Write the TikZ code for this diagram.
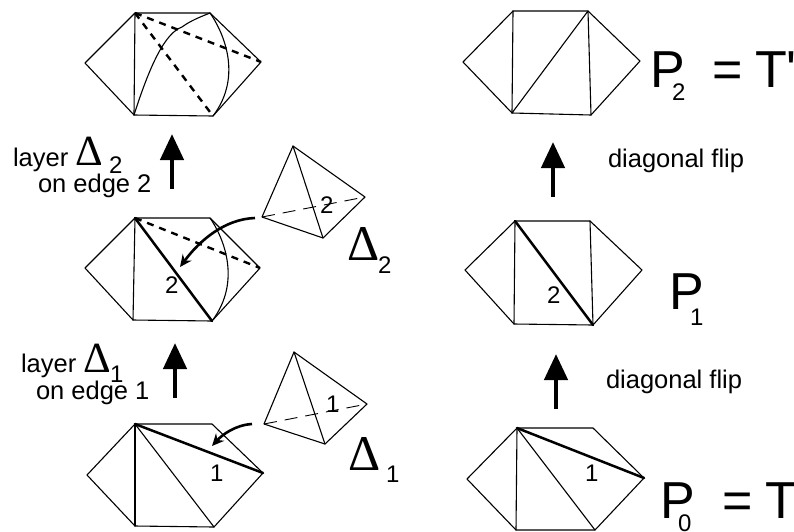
\documentclass[tikz,border=0pt]{standalone}
\usepackage{fontspec}
\setmainfont{Liberation Sans}
\newfontfamily\deltafont{Liberation Serif}
\newfontfamily\plainsans{Liberation Sans}
\usetikzlibrary{arrows.meta}
\tikzset{
  edgeline/.style={line width=1.1pt,line join=round,line cap=round},
  heavy/.style={line width=2.5pt,line cap=round},
  dashheavy/.style={line width=2.4pt,dash pattern=on 7pt off 6pt},
  dashthin/.style={line width=0.9pt,dash pattern=on 13pt off 8pt},
  uparrow/.style={line width=4.5pt,-{Triangle[length=26pt,width=23pt]}},
  curvearrow/.style={line width=2.6pt,-{Stealth[length=12pt,width=11pt]}},
  txt/.style={anchor=base west,inner sep=0pt,outer sep=0pt,font=\fontsize{25.5}{25.5}\selectfont},
  num/.style={txt,font=\fontsize{24}{24}\selectfont},
  sub/.style={txt,font=\fontsize{24}{24}\selectfont},
  smalldelta/.style={txt,font=\deltafont\fontsize{43}{43}\selectfont},
  bigtxt/.style={txt,font=\plainsans\fontsize{52}{52}\selectfont},
  bigdelta/.style={txt,font=\deltafont\fontsize{50}{50}\selectfont}
}
\newcommand{\hexcoords}[7]{%
  \coordinate (#1l) at #2; \coordinate (#1tl) at #3; \coordinate (#1tr) at #4;
  \coordinate (#1r) at #5; \coordinate (#1br) at #6; \coordinate (#1bl) at #7;
  \draw[edgeline] (#1l) -- (#1tl) -- (#1tr) -- (#1r) -- (#1br) -- (#1bl) -- cycle;
  \draw[edgeline] (#1tl) -- (#1bl);
}
\begin{document}
\begin{tikzpicture}[x=1pt,y=-1pt]
\useasboundingbox (0,0) rectangle (794,531);
% left column
\hexcoords{a}{(85,63)}{(135,13)}{(210,13)}{(261,62)}{(213,116)}{(134,115)}
\draw[dashheavy] (atl) -- (ar);
\draw[dashheavy] (atl) -- (abr);
\draw[edgeline] (abl) .. controls (150,65) and (165,33) .. (182,27) .. controls (190,21) and (200,17) .. (atr);
\draw[edgeline] (atr) .. controls (222,30) and (244,75) .. (abr);
\hexcoords{b}{(85,268)}{(135,218)}{(210,218)}{(260,268)}{(212,321)}{(133,320)}
\draw[dashheavy] (btl) -- (br);
\draw[heavy] (btl) -- (bbr);
\draw[edgeline] (btr) .. controls (222,235) and (243,280) .. (bbr);
\hexcoords{c}{(87,475)}{(135,424)}{(212,424)}{(263,473)}{(214,527)}{(135,526)}
\draw[heavy] (ctl) -- (cr);
\draw[edgeline] (ctl) -- (cbr);
% right column
\hexcoords{d}{(463,62)}{(513,11)}{(588,11)}{(640,61)}{(591,115)}{(512,113)}
\draw[edgeline] (dbl) -- (dtr) -- (dbr);
\hexcoords{e}{(465,270)}{(515,221)}{(590,221)}{(642,270)}{(593,325)}{(514,324)}
\draw[edgeline] (etr) -- (ebr);
\draw[heavy] (etl) -- (ebr);
\hexcoords{f}{(467,479)}{(517,428)}{(593,428)}{(644,478)}{(595,530)}{(516,530)}
\draw[heavy] (ftl) -- (fr);
\draw[edgeline] (ftl) -- (fbr);
% tetrahedra
\coordinate (ta) at (293,146); \coordinate (tb) at (365,197); \coordinate (tc) at (323,238); \coordinate (td) at (262,217);
\draw[edgeline] (td) -- (ta) -- (tb) -- (tc) -- cycle;
\draw[edgeline] (ta) -- (tc);
\draw[dashthin] (td) -- (tb);
\coordinate (ua) at (294,352); \coordinate (ub) at (367,404); \coordinate (uc) at (325,444); \coordinate (ud) at (264,424);
\draw[edgeline] (ud) -- (ua) -- (ub) -- (uc) -- cycle;
\draw[edgeline] (ua) -- (uc);
\draw[dashthin] (ud) -- (ub);
% arrows
\coordinate (s1) at (172,189); \coordinate (e1) at (172,134);
\coordinate (s2) at (175,398); \coordinate (e2) at (175,343);
\coordinate (s3) at (553,197); \coordinate (e3) at (553,142);
\coordinate (s4) at (556,409); \coordinate (e4) at (556,354);
\draw[uparrow] (s1) -- (e1);
\draw[uparrow] (s2) -- (e2);
\draw[uparrow] (s3) -- (e3);
\draw[uparrow] (s4) -- (e4);
\coordinate (cs1) at (255,218); \coordinate (ce1) at (180,267);
\coordinate (cs2) at (252,424); \coordinate (ce2) at (212,446);
\draw[curvearrow] (cs1) .. controls (225,219) and (200,240) .. (ce1);
\draw[curvearrow] (cs2) .. controls (235,425) and (222,435) .. (ce2);
% labels
\node[txt] (l1) at (13,166) {layer};
\node[smalldelta] (d1) at (75,165) {Δ};
\node[sub] (d1s) at (109,173) {2};
\node[txt] (l2) at (38,192) {on edge 2};
\node[txt] (l3) at (21,372) {layer};
\node[smalldelta] (d2) at (83,372) {Δ};
\node[sub] (d2s) at (110,382) {1};
\node[txt] (l4) at (36,399) {on edge 1};
\node[bigdelta] (d3) at (347,260) {Δ};
\node[sub] (d3s) at (378,273) {2};
\node[bigdelta] (d4) at (348,470) {Δ};
\node[sub] (d4s) at (386,482) {1};
\node[num] (n1) at (320,213) {2};
\node[num] (n2) at (326,412) {1};
\node[num] (n3) at (165,293) {2};
\node[num] (n4) at (210,481) {1};
\node[num] (n5) at (547,303) {2};
\node[num] (n6) at (585,481) {1};
\node[bigtxt] (p2) at (650,87) {P};
\node[sub] (p2s) at (672,100) {2};
\node[bigtxt] (p2e) at (712,87) {=};
\node[bigtxt] (p2t) at (755,87) {T'};
\node[bigtxt] (p1) at (669,309) {P};
\node[sub] (p1s) at (690,325) {1};
\node[bigtxt] (p0) at (660,518) {P};
\node[sub] (p0s) at (678,531) {0};
\node[bigtxt] (p0e) at (722,518) {=};
\node[bigtxt] (p0t) at (765,518) {T};
\node[txt] (f1) at (608,167) {diagonal flip};
\node[txt] (f2) at (606,388) {diagonal flip};
\end{tikzpicture}
\end{document}
